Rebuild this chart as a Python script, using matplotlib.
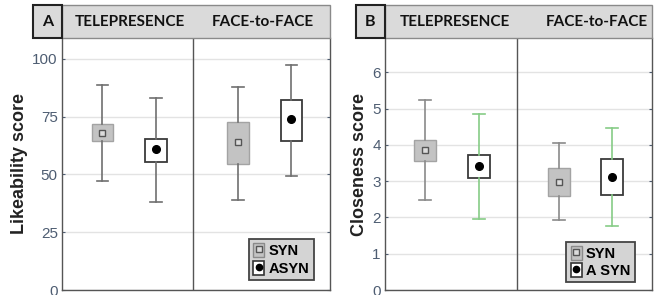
import matplotlib
matplotlib.use("Agg")
import matplotlib.pyplot as plt
from matplotlib.patches import Rectangle
from matplotlib.lines import Line2D
from matplotlib.legend_handler import HandlerTuple

plt.rcParams["font.family"] = ["Liberation Sans", "DejaVu Sans"]

W, H = 662, 295

# ---------------- data ----------------
groups = ["TELEPRESENCE", "FACE-to-FACE"]
conditions = ["SYN", "ASYN"]

# Likeability (panel A): order = Tele-SYN, Tele-ASYN, F2F-SYN, F2F-ASYN
like_mean = [68, 61, 64, 74]
like_q1 = [64.5, 55.5, 54.5, 64.5]
like_q3 = [72, 65.5, 72.5, 82]
like_lo = [47, 38, 39, 49.5]
like_hi = [88.5, 83, 88, 97.5]

# Closeness (panel B)
close_mean = [3.86, 3.41, 2.99, 3.12]
close_q1 = [3.55, 3.09, 2.6, 2.62]
close_q3 = [4.13, 3.72, 3.36, 3.6]
close_lo = [2.47, 1.95, 1.92, 1.76]
close_hi = [5.25, 4.85, 4.06, 4.46]

like_ticks = [0, 25, 50, 75, 100]
close_ticks = [0, 1, 2, 3, 4, 5, 6]

fig = plt.figure(figsize=(W / 100, H / 100), dpi=100)


def fx(px):
    return px / W


def fy(py):
    return 1 - py / H


tick_color = "#4e5d72"
grid_color = "#e3e3e3"
spine_color = "#555555"


def panel(left, right, top, bottom, letter, ylab, mean, q1, q3, lo, hi,
          ticks, ylim, pos, divider, asyn_whisker, syn_whisker, text_centers,
          legend_labels, legend_anchor):
    ax = fig.add_axes([fx(left), fy(bottom), fx(right - left), fy(top) - fy(bottom)])
    for i in range(4):
        st = dict(med=mean[i], q1=q1[i], q3=q3[i], whislo=lo[i], whishi=hi[i], fliers=[])
        syn = (i % 2 == 0)
        wc = syn_whisker if syn else asyn_whisker
        ax.bxp([st], positions=[pos[i]], widths=0.4, patch_artist=True,
               showfliers=False, capwidths=0.22,
               boxprops=dict(facecolor="#c3c3c3" if syn else "white",
                             edgecolor="#a3a3a3" if syn else "#3a3a3a",
                             linewidth=1.0 if syn else 1.3),
               whiskerprops=dict(color=wc, linewidth=1.2),
               capprops=dict(color=wc, linewidth=1.2),
               medianprops=dict(visible=False), zorder=3)
        if syn:
            ax.plot(pos[i], mean[i], marker="s", ms=5, mfc="#dcdcdc", mec="#555555",
                    mew=1.0, zorder=5)
        else:
            ax.plot(pos[i], mean[i], marker="o", ms=5.5, mfc="black", mec="black", zorder=5)
    ax.axvline(divider, color=spine_color, lw=1.0, zorder=2)
    ax.set_xlim(0, 5)
    ax.set_ylim(*ylim)
    ax.set_xticks([])
    ax.set_yticks(ticks)
    ax.yaxis.grid(True, color=grid_color, lw=1.0, zorder=0)
    ax.set_axisbelow(True)
    ax.tick_params(axis="y", direction="in", length=2, colors=tick_color,
                   labelsize=11, pad=3, right=True)
    for s in ax.spines.values():
        s.set_color(spine_color)
        s.set_linewidth(1.0)
    ax.spines["top"].set_visible(False)
    ax.set_ylabel(ylab, fontsize=13, fontweight="bold", color="#222222", labelpad=3)

    # legend
    h_syn = (Rectangle((0, 0), 1, 1, facecolor="#c3c3c3", edgecolor="#8a8a8a"),
             Line2D([], [], marker="s", ms=4, mfc="#dcdcdc", mec="#555555", ls=""))
    h_asyn = (Rectangle((0, 0), 1, 1, facecolor="white", edgecolor="#333333", lw=1.2),
              Line2D([], [], marker="o", ms=4.5, mfc="black", mec="black", ls=""))
    leg = ax.legend([h_syn, h_asyn], legend_labels,
                    handler_map={tuple: HandlerTuple(ndivide=1, pad=0)},
                    loc="lower right", bbox_to_anchor=legend_anchor,
                    handlelength=0.75, handleheight=1.1, handletextpad=0.3,
                    labelspacing=0.15, borderpad=0.3, borderaxespad=0.0,
                    prop=dict(weight="bold", size=10.5),
                    frameon=True, fancybox=False, facecolor="#d4d4d4",
                    edgecolor="#444444", framealpha=1)
    leg.get_frame().set_linewidth(1.3)
    leg.set_zorder(10)

    # header
    lbox_left = left - 29
    fig.patches.append(Rectangle((fx(left), fy(top)), fx(right - left), fy(5) - fy(top),
                                 transform=fig.transFigure, facecolor="#dadada",
                                 edgecolor="#8a8a8a", lw=1.0, zorder=1))
    fig.patches.append(Rectangle((fx(lbox_left), fy(top)), fx(29), fy(5) - fy(top),
                                 transform=fig.transFigure, facecolor="#dadada",
                                 edgecolor="#222222", lw=1.5, zorder=2))
    fig.text(fx(lbox_left + 14.5), fy(21.5), letter, ha="center", va="center",
             fontsize=11.5, fontweight="bold", family="Lato", color="#111111")
    for g, c in zip(groups, text_centers):
        fig.text(fx(c), fy(21.5), g, ha="center", va="center", fontsize=11,
                 fontweight="bold", family="Lato", color="#111111")
    return ax


panel(62, 330, 38, 290, "A", "Likeability score",
      like_mean, like_q1, like_q3, like_lo, like_hi,
      like_ticks, (0, 109), [0.755, 1.755, 3.285, 4.28], 2.435,
      "#6f6f6f", "#6f6f6f", [130, 263], conditions, (0.94, 0.04))

panel(385, 652, 38, 290, "B", "Closeness score",
      close_mean, close_q1, close_q3, close_lo, close_hi,
      close_ticks, (0, 6.95), [0.75, 1.76, 3.26, 4.25], 2.47,
      "#86cc86", "#8a8a8a", [455, 597], ["SYN", "A SYN"], (0.935, 0.03))

fig.savefig("out.png", dpi=100)
